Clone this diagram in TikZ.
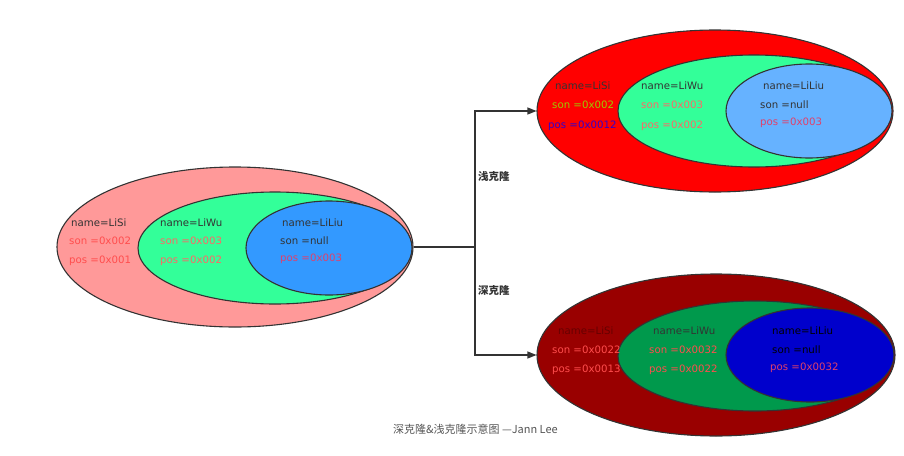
\documentclass[tikz,border=0pt]{standalone}
\usepackage{fontspec}
\setmainfont{Noto Sans CJK SC}
\newfontfamily\latinlbl{DejaVu Sans}
\usetikzlibrary{shapes.geometric,arrows.meta}
\definecolor{edge}{HTML}{333333}
\definecolor{pinkA}{HTML}{FF9999}
\definecolor{greenA}{HTML}{33FF99}
\definecolor{blueA}{HTML}{3399FF}
\definecolor{redB}{HTML}{FF0000}
\definecolor{blueB}{HTML}{66B2FF}
\definecolor{redC}{HTML}{990000}
\definecolor{greenC}{HTML}{00994C}
\definecolor{blueC}{HTML}{0000CC}
\definecolor{txtdark}{HTML}{333333}
\definecolor{txtred}{HTML}{FF4D4D}
\definecolor{txtsalmon}{HTML}{FF6666}
\definecolor{txtolive}{HTML}{99CC00}
\definecolor{txtpurple}{HTML}{3300CC}
\definecolor{txtpink}{HTML}{E0406A}
\definecolor{txtmaroon}{HTML}{660000}
\definecolor{txtcap}{HTML}{555555}
\tikzset{
  ell/.style={ellipse, draw=edge, line width=1.1pt, inner sep=0pt},
  lbl/.style={anchor=base west, inner sep=0pt, font=\latinlbl\fontsize{10.2}{12}\selectfont},
  conn/.style={draw=edge, line width=1.1pt},
  tag/.style={anchor=base west, inner sep=0pt, font=\fontsize{10.5}{12}\selectfont\bfseries, text=txtdark}
}
\begin{document}
\begin{tikzpicture}[x=1pt,y=-1pt]
\useasboundingbox (0,0) rectangle (904,455);
% left group
\node[ell, fill=pinkA, minimum width=356pt, minimum height=160pt] (L) at (235,247) {};
\node[ell, fill=greenA, minimum width=274pt, minimum height=112pt] (Lg) at (275,248) {};
\node[ell, fill=blueA, minimum width=166pt, minimum height=94pt] (Lb) at (329,248) {};
\node[lbl, text=txtdark] (l1) at (71,226) {name=LiSi};
\node[lbl, text=txtred] (l2) at (69,244) {son =0x002};
\node[lbl, text=txtred] (l3) at (69,263) {pos =0x001};
\node[lbl, text=txtdark] (l4) at (160,226) {name=LiWu};
\node[lbl, text=txtsalmon] (l5) at (160,244) {son =0x003};
\node[lbl, text=txtsalmon] (l6) at (160,263) {pos =0x002};
\node[lbl, text=txtdark] (l7) at (282,226) {name=LiLiu};
\node[lbl, text=txtdark] (l8) at (280,244) {son =null};
\node[lbl, text=txtpink] (l9) at (280,261) {pos =0x003};
% top right group
\node[ell, fill=redB, minimum width=356pt, minimum height=162pt] (T) at (715,111) {};
\node[ell, fill=greenA, minimum width=272pt, minimum height=112pt] (Tg) at (754,111) {};
\node[ell, fill=blueB, minimum width=166pt, minimum height=94pt] (Tb) at (809,111) {};
\node[lbl, text=txtdark] (t1) at (555,89) {name=LiSi};
\node[lbl, text=txtolive] (t2) at (552,108) {son =0x002};
\node[lbl, text=txtpurple] (t3) at (548,128) {pos =0x0012};
\node[lbl, text=txtdark] (t4) at (641,89) {name=LiWu};
\node[lbl, text=txtsalmon] (t5) at (641,108) {son =0x003};
\node[lbl, text=txtsalmon] (t6) at (641,128) {pos =0x002};
\node[lbl, text=txtdark] (t7) at (763,89) {name=LiLiu};
\node[lbl, text=txtdark] (t8) at (760,108) {son =null};
\node[lbl, text=txtpink] (t9) at (760,125) {pos =0x003};
% bottom right group
\node[ell, fill=redC, minimum width=358pt, minimum height=162pt] (B) at (716,355) {};
\node[ell, fill=greenC, minimum width=274pt, minimum height=110pt] (Bg) at (755,356) {};
\node[ell, fill=blueC, minimum width=168pt, minimum height=94pt] (Bb) at (810,355) {};
\node[lbl, text=txtmaroon] (b1) at (558,334) {name=LiSi};
\node[lbl, text=txtred] (b2) at (552,353) {son =0x0022};
\node[lbl, text=txtred] (b3) at (552,372) {pos =0x0013};
\node[lbl, text=txtdark] (b4) at (653,334) {name=LiWu};
\node[lbl, text=txtred] (b5) at (649,353) {son =0x0032};
\node[lbl, text=txtred] (b6) at (649,372) {pos =0x0022};
\node[lbl, text=black] (b7) at (772,334) {name=LiLiu};
\node[lbl, text=black] (b8) at (772,353) {son =null};
\node[lbl, text=txtpink] (b9) at (770,370) {pos =0x0032};
% connectors
\coordinate (j) at (475,247);
\draw[conn] (L.east) -- (j);
\draw[conn, -{Triangle[length=9pt,width=7pt]}] (j) |- (T.west);
\draw[conn, -{Triangle[length=9pt,width=7pt]}] (j) |- (B.west);
\node[tag] (shallow) at (478,180) {浅克隆};
\node[tag] (deep) at (478,294) {深克隆};
% caption
\node[anchor=base west, inner sep=0pt, text=txtcap, font=\fontsize{11}{13}\selectfont] (cap) at (393,433) {深克隆\&浅克隆示意图 —Jann Lee};
\end{tikzpicture}
\end{document}
